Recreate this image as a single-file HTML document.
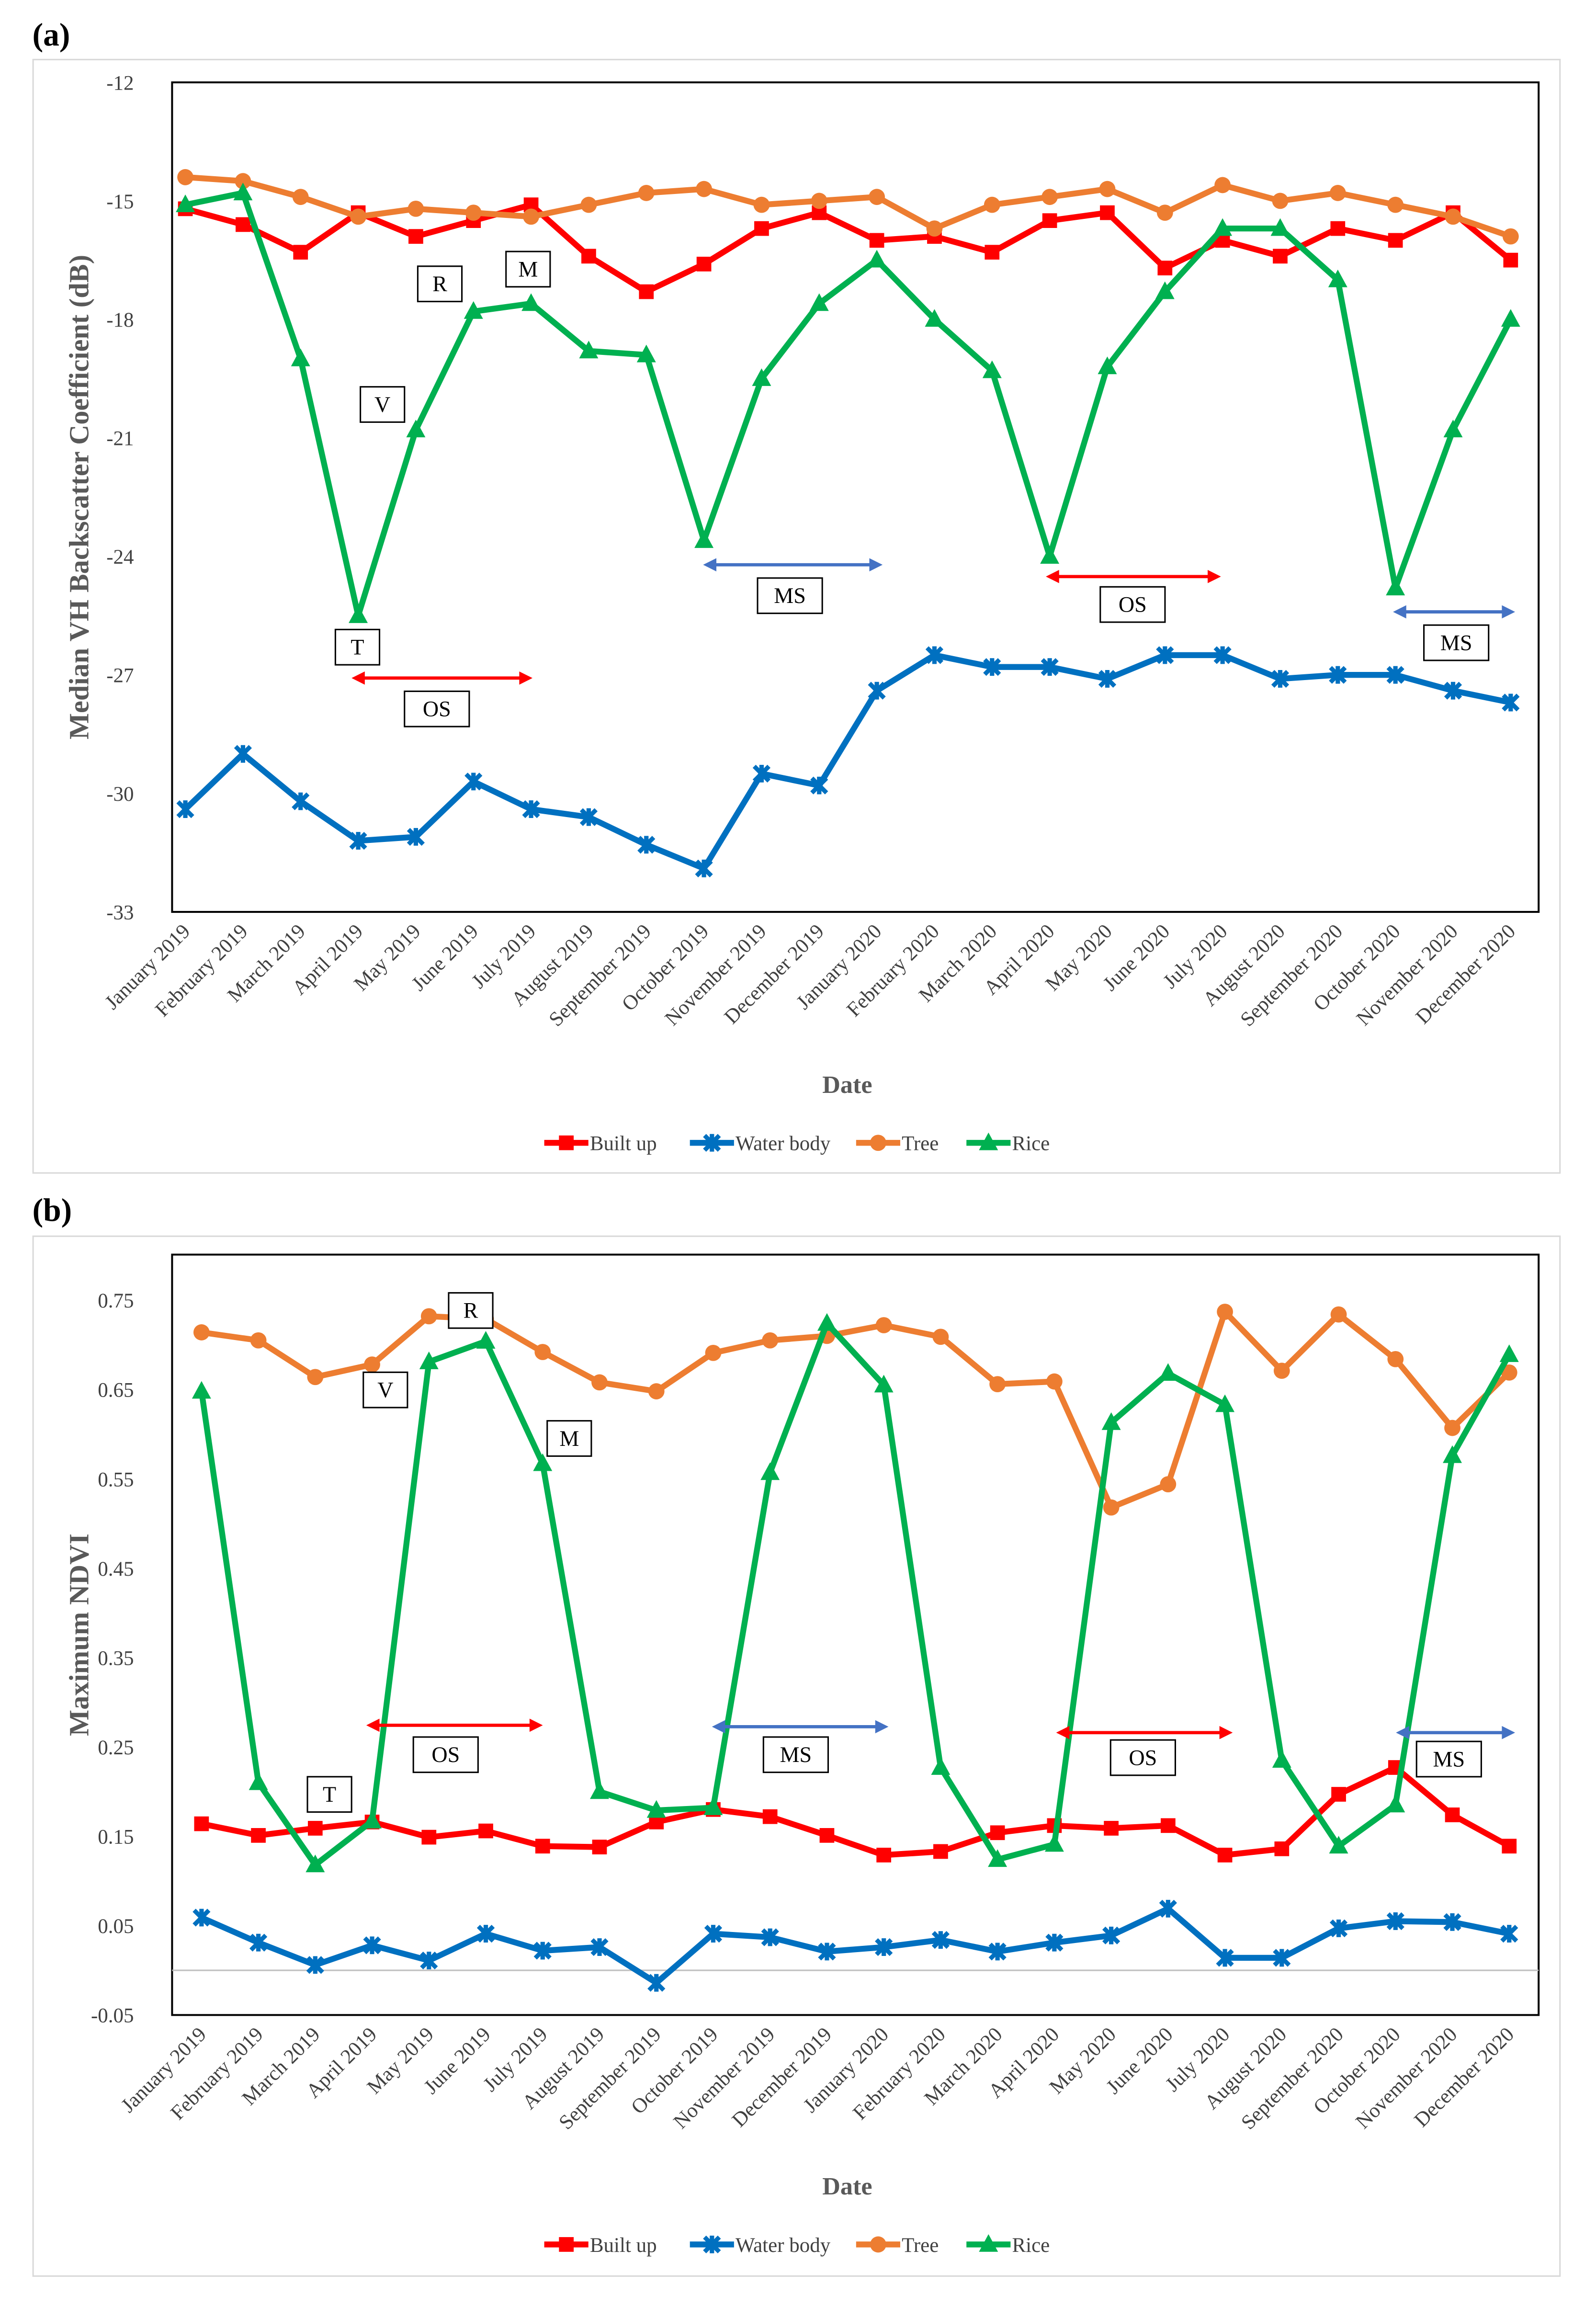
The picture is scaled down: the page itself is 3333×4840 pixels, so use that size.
<!DOCTYPE html>
<html><head><meta charset="utf-8"><style>
html,body{margin:0;padding:0;background:#fff;}
svg{display:block;font-family:"Liberation Serif",serif;}
</style></head><body>
<svg id="fig" width="3333" height="4840" viewBox="0 0 1085 1576" preserveAspectRatio="none" xmlns="http://www.w3.org/2000/svg">
<rect width="1085" height="1576" fill="#fff"/>
<text x="22" y="31" font-size="22" font-weight="bold">(a)</text>
<text x="22" y="830" font-size="22" font-weight="bold">(b)</text>
<rect x="22.5" y="40.5" width="1038" height="757" fill="none" stroke="#d9d9d9"/>
<rect x="22.5" y="840.5" width="1038" height="707" fill="none" stroke="#d9d9d9"/>
<g id="ga"></g><g id="gb"></g>
</svg>
<script>
const months = ["January 2019","February 2019","March 2019","April 2019","May 2019","June 2019","July 2019","August 2019","September 2019","October 2019","November 2019","December 2019","January 2020","February 2020","March 2020","April 2020","May 2020","June 2020","July 2020","August 2020","September 2020","October 2020","November 2020","December 2020"];
const seriesNames = ["Built up","Water body","Tree","Rice"];
const aTicks = [-12,-15,-18,-21,-24,-27,-30,-33];
const aBuilt = [-15.2,-15.6,-16.3,-15.3,-15.9,-15.5,-15.1,-16.4,-17.3,-16.6,-15.7,-15.3,-16.0,-15.9,-16.3,-15.5,-15.3,-16.7,-16.0,-16.4,-15.7,-16.0,-15.3,-16.5];
const aWater = [-30.4,-29.0,-30.2,-31.2,-31.1,-29.7,-30.4,-30.6,-31.3,-31.9,-29.5,-29.8,-27.4,-26.5,-26.8,-26.8,-27.1,-26.5,-26.5,-27.1,-27.0,-27.0,-27.4,-27.7];
const aTree = [-14.4,-14.5,-14.9,-15.4,-15.2,-15.3,-15.4,-15.1,-14.8,-14.7,-15.1,-15.0,-14.9,-15.7,-15.1,-14.9,-14.7,-15.3,-14.6,-15.0,-14.8,-15.1,-15.4,-15.9];
const aRice = [-15.1,-14.8,-19.0,-25.5,-20.8,-17.8,-17.6,-18.8,-18.9,-23.6,-19.5,-17.6,-16.5,-18.0,-19.3,-24.0,-19.2,-17.3,-15.7,-15.7,-17.0,-24.8,-20.8,-18.0];
const bTicks = [0.75,0.65,0.55,0.45,0.35,0.25,0.15,0.05,-0.05];
const bTickLabels = ["0.75","0.65","0.55","0.45","0.35","0.25","0.15","0.05","-0.05"];
const bBuilt = [0.164,0.151,0.159,0.166,0.149,0.156,0.139,0.138,0.166,0.180,0.172,0.151,0.129,0.133,0.154,0.162,0.159,0.162,0.129,0.136,0.197,0.227,0.174,0.139];
const bWater = [0.059,0.031,0.006,0.028,0.011,0.041,0.022,0.026,-0.014,0.041,0.037,0.021,0.026,0.034,0.021,0.031,0.039,0.069,0.014,0.014,0.047,0.055,0.054,0.041];
const bTree = [0.714,0.705,0.664,0.678,0.732,0.729,0.692,0.658,0.648,0.691,0.705,0.710,0.722,0.709,0.656,0.659,0.518,0.544,0.737,0.671,0.734,0.684,0.607,0.669];
const bRice = [0.648,0.210,0.118,0.167,0.681,0.704,0.567,0.200,0.179,0.182,0.557,0.724,0.655,0.227,0.124,0.141,0.613,0.668,0.633,0.235,0.139,0.185,0.576,0.689];
const colors = ["#ff0000","#0070c0","#ed7d31","#00b050"];
const NS="http://www.w3.org/2000/svg";
function mk(parent,tag,attrs,text){const e=document.createElementNS(NS,tag);for(const k in attrs)e.setAttribute(k,attrs[k]);if(text!==undefined)e.textContent=text;parent.appendChild(e);return e;}
function marker(g,kind,x,y,c){
  let m;
  if(kind===0){m=mk(g,'rect',{x:x-5,y:y-5,width:10,height:10,fill:c});}
  else if(kind===1){m=mk(g,'path',{d:`M${x-5} ${y-5}L${x+5} ${y+5}M${x+5} ${y-5}L${x-5} ${y+5}M${x} ${y-6}L${x} ${y+6}`,stroke:c,'stroke-width':3});}
  else if(kind===2){m=mk(g,'circle',{cx:x,cy:y,r:5.5,fill:c});}
  else {m=mk(g,'path',{d:`M${x} ${y-7}L${x+6.5} ${y+5}L${x-6.5} ${y+5}Z`,fill:c});}
  return m;
}
function chart(cfg){
  const g=document.getElementById(cfg.id);
  const {px0,px1,py0,py1,vTop,vBot,x0,x1}=cfg;
  const X=i=>x0+(x1-x0)*i/(months.length-1);
  const Y=v=>py0+(vTop-v)/(vTop-vBot)*(py1-py0);
  const pa=mk(g,'rect',{x:px0,y:py0,width:px1-px0,height:py1-py0,fill:'none',stroke:'#000','stroke-width':1.3});
  
  
  if(cfg.zero){const z=mk(g,'line',{x1:px0,x2:px1,y1:Y(0),y2:Y(0),stroke:'#bfbfbf','stroke-width':1});
    
    }
  cfg.ticks.forEach((t,i)=>{const tl=mk(g,'text',{x:px0-26,y:Y(t)+5,'font-size':14,'text-anchor':'end',fill:'#404040'},cfg.tickLabels?cfg.tickLabels[i]:String(t));
    
    });
  months.forEach((m,i)=>{const tx=X(i)+4,ty=py1+cfg.xlOff;
    const tl=mk(g,'text',{x:tx,y:ty,'font-size':14,'text-anchor':'end',fill:'#404040',transform:`rotate(-45 ${tx} ${ty})`},m);
    
    });
  const yt=mk(g,'text',{x:0,y:0,'font-size':19,'font-weight':'bold','text-anchor':'middle',fill:'#595959',transform:`translate(60 ${(py0+py1)/2+cfg.yTitleShift}) rotate(-90)`},cfg.yTitle);
  
  
  const xt=mk(g,'text',{x:576,y:cfg.dateY,'font-size':17,'font-weight':'bold','text-anchor':'middle',fill:'#595959'},'Date');
  
  
  cfg.data.forEach((arr,s)=>{
    const sg=mk(g,'g',{});
    
    
    const ln=mk(sg,'polyline',{points:arr.map((v,i)=>X(i)+','+Y(v)).join(' '),fill:'none',stroke:colors[s],'stroke-width':4,'stroke-linejoin':'round'});
    
    
    arr.forEach((v,i)=>{const m=marker(sg,s,X(i),Y(v),colors[s]);
      
      });
  });
  cfg.arrows.forEach(a=>{const c=a[3]==='r'?'#ff0000':'#4472c4';
    const ag=mk(g,'g',{});
    
    
    mk(ag,'line',{x1:a[0]+6,x2:a[1]-6,y1:a[2],y2:a[2],stroke:c,'stroke-width':2.2});
    mk(ag,'path',{d:`M${a[0]} ${a[2]}l9 -4.5v9z M${a[1]} ${a[2]}l-9 -4.5v9z`,fill:c});});
  cfg.boxes.forEach(b=>{const bg=mk(g,'g',{});
    
    
    const w=b[0].length>1?44:30;
    mk(bg,'rect',{x:b[1],y:b[2],width:w,height:24,fill:'#fff',stroke:'#000','stroke-width':1});
    mk(bg,'text',{x:b[1]+w/2,y:b[2]+17,'font-size':15,'text-anchor':'middle'},b[0]);});
  const lx=[370,469,582,657];
  seriesNames.forEach((n,s)=>{const lg=mk(g,'g',{});
    
    
    const x=lx[s],y=cfg.legY;
    mk(lg,'line',{x1:x,x2:x+30,y1:y,y2:y,stroke:colors[s],'stroke-width':4});
    marker(lg,s,x+15,y,colors[s]);
    mk(lg,'text',{x:x+31,y:y+5,'font-size':14,fill:'#404040'},n);});
}
chart({id:'ga',px0:117,px1:1046,py0:56,py1:620,vTop:-12,vBot:-33,x0:126,x1:1027,ticks:aTicks,xlOff:14,yTitle:'Median VH Backscatter Coefficient (dB)',yTitleShift:0,dateY:743,legY:777,
 data:[aBuilt,aWater,aTree,aRice],
 arrows:[[239,362,461,'r'],[478,600,384,'b'],[711,830,392,'r'],[947,1030,416,'b']],
 boxes:[['R',284,181],['M',344,171],['V',245,263],['T',228,428],['OS',275,470],['MS',515,393],['OS',748,399],['MS',968,425]]});
chart({id:'gb',px0:117,px1:1046,py0:853,py1:1370,vTop:0.801,vBot:-0.05,x0:137,x1:1026,ticks:bTicks,tickLabels:bTickLabels,zero:true,xlOff:14,yTitle:'Maximum NDVI',yTitleShift:0,dateY:1492,legY:1526,
 data:[bBuilt,bWater,bTree,bRice],
 arrows:[[249,369,1173,'r'],[484,604,1174,'b'],[718,838,1178,'r'],[949,1030,1178,'b']],
 boxes:[['V',247,933],['R',305,879],['M',372,966],['T',209,1208],['OS',281,1181],['MS',519,1181],['OS',755,1183],['MS',963,1184]]});
</script>
</body></html>
